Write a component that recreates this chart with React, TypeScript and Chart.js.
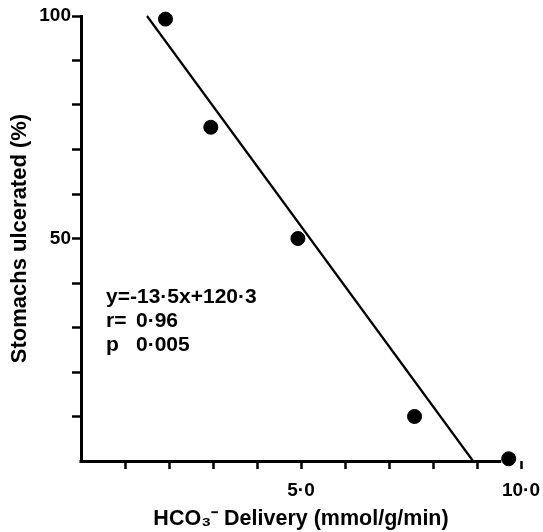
import React, { useEffect, useRef } from "react";
import { Chart, registerables } from "chart.js";

Chart.register(...registerables);

const deliveryX = [1.92, 2.95, 4.93, 7.58, 9.72];
const ulceratedY = [99.3, 75, 50, 10, 0.5];
const fitX = [1.5, 8.91];
const fitY = [100, 0];
const xTickLabels: Record<number, string> = { 5: "5·0", 10: "10·0" };
const yTickLabels: Record<number, string> = { 50: "50", 100: "100" };
const statLabels = ["y=-13·5x+120·3", "r=", "p"];
const statValues = ["", "0·96", "0·005"];

const FONT = "'Liberation Sans', Arial, sans-serif";

export default function App() {
  const ref = useRef<HTMLCanvasElement | null>(null);
  useEffect(() => {
    if (!ref.current) return;
    const statsPlugin = {
      id: "stats",
      beforeDatasetsDraw(chart: any) {
        const { ctx, scales } = chart;
        const xs = scales.x;
        ctx.save();
        ctx.strokeStyle = "#000";
        ctx.lineWidth = 3;
        ctx.beginPath();
        const y = Math.round(xs.top) + 0.5;
        ctx.moveTo(xs.getPixelForValue(0) - 1.5, y);
        ctx.lineTo(xs.getPixelForValue(9.55), y);
        ctx.stroke();
        ctx.restore();
      },
      afterDatasetsDraw(chart: any) {
        const { ctx, scales } = chart;
        const xs = scales.x;
        const ys = scales.y;
        const rows = [36.9, 31.5, 26.1];
        ctx.save();
        ctx.fillStyle = "#000";
        ctx.font = `bold 21px ${FONT}`;
        ctx.textBaseline = "middle";
        ctx.textAlign = "left";
        for (let i = 0; i < statLabels.length; i++) {
          const y = ys.getPixelForValue(rows[i]);
          ctx.fillText(statLabels[i], xs.getPixelForValue(0.57), y);
          if (statValues[i]) ctx.fillText(statValues[i], xs.getPixelForValue(1.25), y);
        }
        ctx.restore();
      },
    };
    const chart = new Chart(ref.current, {
      type: "scatter",
      data: {
        datasets: [
          {
            type: "line",
            data: fitX.map((x, i) => ({ x, y: fitY[i] })),
            borderColor: "#000",
            borderWidth: 2.2,
            pointRadius: 0,
            fill: false,
            clip: false,
          } as any,
          {
            data: deliveryX.map((x, i) => ({ x, y: ulceratedY[i] })),
            backgroundColor: "#000",
            borderColor: "#000",
            pointRadius: 7,
            pointHoverRadius: 7,
            clip: false,
          } as any,
        ],
      },
      options: {
        animation: false,
        responsive: false,
        layout: { padding: { top: 16, right: 22, left: 0, bottom: 0 } },
        plugins: { legend: { display: false }, tooltip: { enabled: false } },
        scales: {
          x: {
            type: "linear",
            min: 0,
            max: 10,
            afterFit: (s: any) => {
              s.height = 71;
              s.paddingLeft = 0;
              s.paddingRight = 0;
            },
            border: { display: false },
            grid: {
              drawOnChartArea: false,
              drawTicks: true,
              tickLength: 8,
              tickWidth: 2.5,
              tickColor: (c: any) => (c.tick && c.tick.value === 0 ? "rgba(0,0,0,0)" : "#000"),
            },
            ticks: {
              stepSize: 1,
              color: "#000",
              padding: 10,
              maxRotation: 0,
              autoSkip: false,
              font: { family: FONT, size: 19, weight: "bold" },
              callback: (v: any) => xTickLabels[v as number] ?? "",
            },
            title: {
              display: true,
              text: "HCO₃⁻ Delivery (mmol/g/min)",
              color: "#000",
              font: { family: FONT, size: 21.5, weight: "bold" },
              padding: { top: 0, bottom: 0 },
            },
          },
          y: {
            type: "linear",
            min: 0,
            max: 100,
            afterFit: (s: any) => {
              s.width = 81;
              s.paddingTop = 0;
              s.paddingBottom = 0;
            },
            border: { display: true, color: "#000", width: 3 },
            grid: {
              drawOnChartArea: false,
              drawTicks: true,
              tickLength: 9,
              tickWidth: 2.5,
              tickColor: (c: any) => (c.tick && c.tick.value === 0 ? "rgba(0,0,0,0)" : "#000"),
            },
            ticks: {
              stepSize: 10,
              color: "#000",
              padding: 1,
              autoSkip: false,
              font: { family: FONT, size: 19, weight: "bold" },
              callback: (v: any) => yTickLabels[v as number] ?? "",
            },
            title: {
              display: true,
              text: "Stomachs ulcerated (%)",
              color: "#000",
              font: { family: FONT, size: 22, weight: "bold" },
              padding: { top: 7, bottom: 0 },
            },
          },
        },
      },
      plugins: [statsPlugin],
    });
    return () => chart.destroy();
  }, []);
  return (
    <div style={{ position: "fixed", left: 0, top: 0, width: 543, height: 532, background: "#fff" }}>
      <canvas ref={ref} width={543} height={532} style={{ display: "block" }} />
    </div>
  );
}
